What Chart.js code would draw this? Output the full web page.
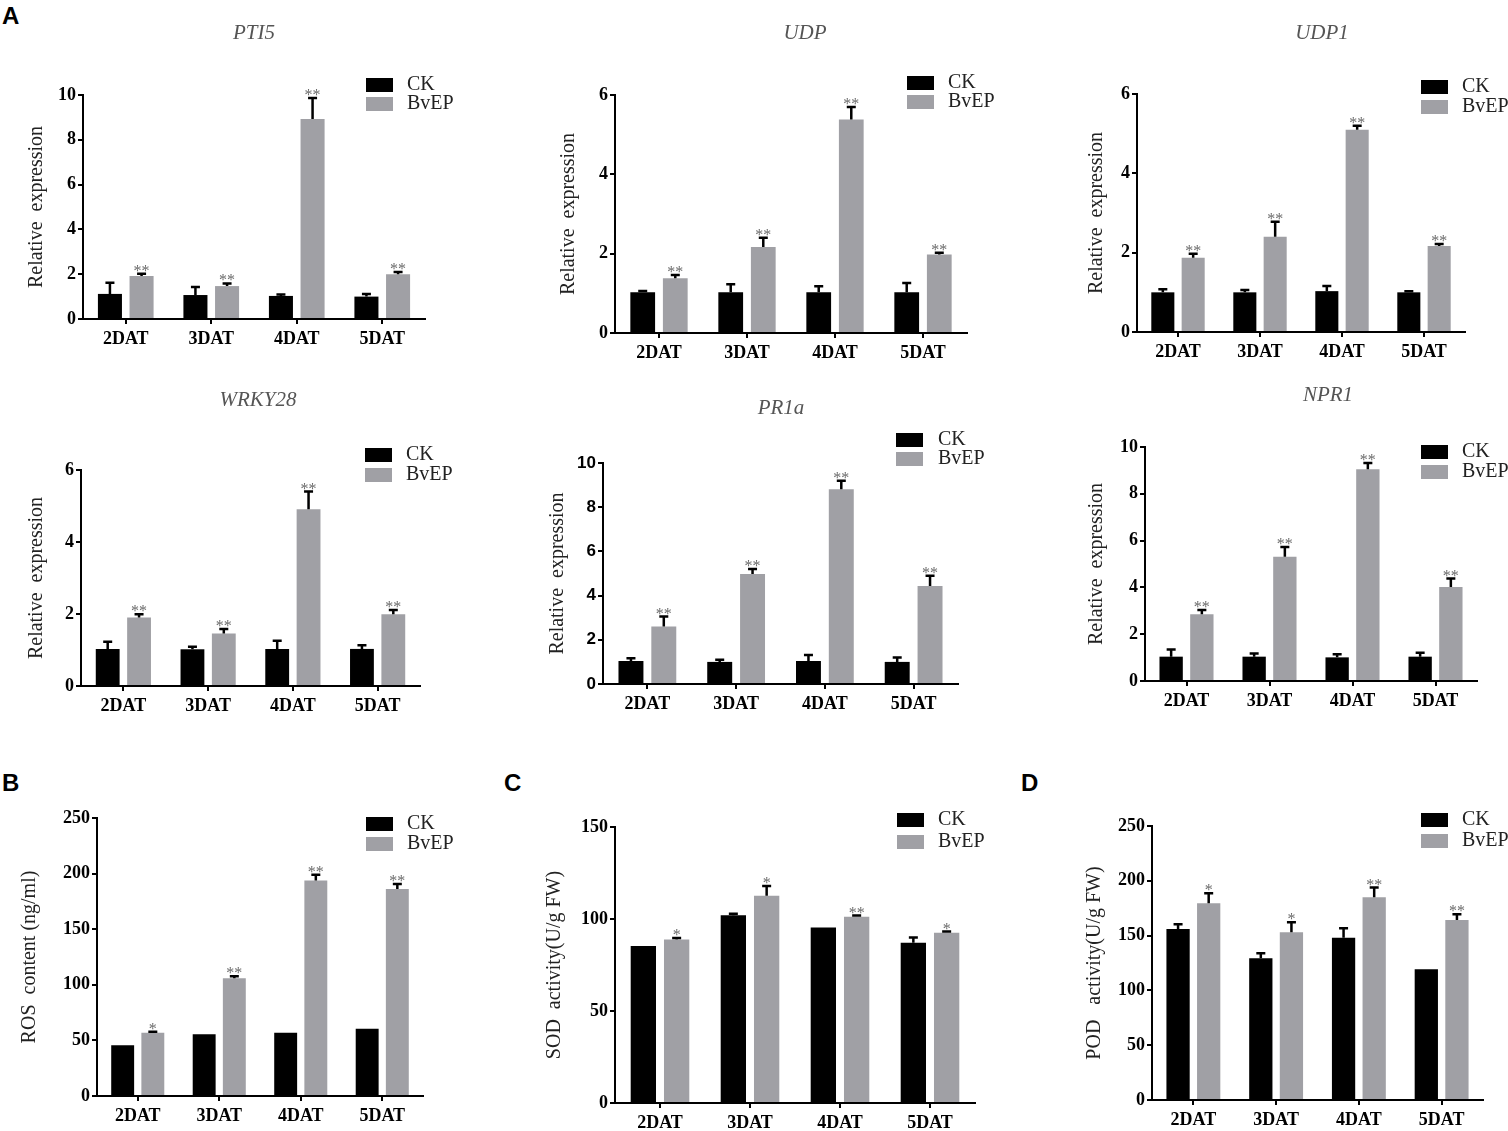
<!DOCTYPE html>
<html>
<head>
<meta charset="utf-8">
<script src="https://cdn.jsdelivr.net/npm/chart.js@4.4.1/dist/chart.umd.min.js"></script>
<style>
body{margin:0;background:#fff;width:1508px;height:1131px;overflow:hidden;position:relative;}
canvas{position:absolute;}
.lab{position:absolute;font:bold 24px "Liberation Sans",Arial,sans-serif;line-height:24px;color:#000;}
</style>
</head>
<body>
<div class="lab" style="left:2px;top:4px">A</div>
<div class="lab" style="left:2px;top:771px">B</div>
<div class="lab" style="left:504px;top:771px">C</div>
<div class="lab" style="left:1021px;top:771px">D</div>
<script>
var days = ['2DAT','3DAT','4DAT','5DAT'];

var pti5CK = [1.12,1.07,1.03,1.0];
var pti5CKErr = [0.5,0.36,0.06,0.12];
var pti5BvEP = [1.92,1.47,8.93,2.0];
var pti5BvEPErr = [0.1,0.12,0.94,0.1];
var pti5Sig = ['**','**','**','**'];

var udpCK = [1.03,1.03,1.03,1.03];
var udpCKErr = [0.03,0.2,0.15,0.23];
var udpBvEP = [1.38,2.17,5.38,1.98];
var udpBvEPErr = [0.08,0.23,0.32,0.04];
var udpSig = ['**','**','**','**'];

var udp1CK = [1.0,1.0,1.03,1.0];
var udp1CKErr = [0.08,0.06,0.13,0.03];
var udp1BvEP = [1.87,2.4,5.1,2.17];
var udp1BvEPErr = [0.1,0.38,0.1,0.05];
var udp1Sig = ['**','**','**','**'];

var wrkyCK = [1.03,1.02,1.03,1.03];
var wrkyCKErr = [0.2,0.07,0.23,0.1];
var wrkyBvEP = [1.9,1.46,4.91,1.99];
var wrkyBvEPErr = [0.09,0.12,0.49,0.12];
var wrkySig = ['**','**','**','**'];

var pr1aCK = [1.04,1.0,1.04,1.0];
var pr1aCKErr = [0.12,0.1,0.27,0.2];
var pr1aBvEP = [2.6,4.98,8.81,4.43];
var pr1aBvEPErr = [0.45,0.22,0.39,0.47];
var pr1aSig = ['**','**','**','**'];

var npr1CK = [1.04,1.04,1.01,1.04];
var npr1CKErr = [0.31,0.14,0.13,0.17];
var npr1BvEP = [2.85,5.31,9.05,4.02];
var npr1BvEPErr = [0.18,0.42,0.27,0.36];
var npr1Sig = ['**','**','**','**'];

var rosCK = [45.7,55.6,56.8,60.4];
var rosCKErr = [0,0,0,0];
var rosBvEP = [56.8,105.8,193.9,186.2];
var rosBvEPErr = [1,2,5,4.5];
var rosSig = ['*','**','**','**'];

var sodCK = [85.3,102.1,95.4,87.1];
var sodCKErr = [0,0.7,0,2.9];
var sodBvEP = [88.9,112.6,101.2,92.5];
var sodBvEPErr = [0.8,5.4,0.7,0.7];
var sodSig = ['*','*','**','*'];

var podCK = [156,129.3,148.1,119.2];
var podCKErr = [4.3,4.5,8.5,0];
var podBvEP = [179.5,153,185,164.2];
var podBvEPErr = [9.1,9.1,8.8,5.2];
var podSig = ['*','*','**','**'];

var serif = '"Liberation Serif","Times New Roman",serif';
var sans = '"Liberation Sans",Arial,sans-serif';
var grey = '#a0a0a5';

Chart.defaults.font.family = serif;
Chart.defaults.font.size = 18;
Chart.defaults.color = '#000';

// page positions of each panel (axis corner, title, legend)
var panels = [
  {ck:pti5CK, ckErr:pti5CKErr, bv:pti5BvEP, bvErr:pti5BvEPErr, sig:pti5Sig, max:10, step:2,
   title:'PTI5', yTitle:'Relative  expression', ax:83, ty:95, by:319, rx:425,
   tx:254, tyT:33, yx:37, lx:366, ly:78, ly2:97, ltx:407},
  {ck:udpCK, ckErr:udpCKErr, bv:udpBvEP, bvErr:udpBvEPErr, sig:udpSig, max:6, step:2,
   title:'UDP', yTitle:'Relative  expression', ax:615, ty:95, by:333, rx:967,
   tx:805, tyT:33, yx:569, lx:907, ly:76, ly2:95, ltx:948},
  {ck:udp1CK, ckErr:udp1CKErr, bv:udp1BvEP, bvErr:udp1BvEPErr, sig:udp1Sig, max:6, step:2,
   title:'UDP1', yTitle:'Relative  expression', ax:1137, ty:94, by:332, rx:1465,
   tx:1322, tyT:33, yx:1097, lx:1421, ly:80, ly2:100, ltx:1462},
  {ck:wrkyCK, ckErr:wrkyCKErr, bv:wrkyBvEP, bvErr:wrkyBvEPErr, sig:wrkySig, max:6, step:2,
   title:'WRKY28', yTitle:'Relative  expression', ax:81, ty:470, by:686, rx:420,
   tx:258, tyT:400, yx:37, lx:365, ly:448, ly2:468, ltx:406},
  {ck:pr1aCK, ckErr:pr1aCKErr, bv:pr1aBvEP, bvErr:pr1aBvEPErr, sig:pr1aSig, max:10, step:2,
   title:'PR1a', yTitle:'Relative  expression', ax:603, ty:463, by:684, rx:958,
   tx:781, tyT:408, yx:558, lx:896, ly:433, ly2:452, ltx:938, sansTicks:true},
  {ck:npr1CK, ckErr:npr1CKErr, bv:npr1BvEP, bvErr:npr1BvEPErr, sig:npr1Sig, max:10, step:2,
   title:'NPR1', yTitle:'Relative  expression', ax:1145, ty:447, by:681, rx:1477,
   tx:1328, tyT:395, yx:1097, lx:1421, ly:445, ly2:465, ltx:1462},
  {ck:rosCK, ckErr:rosCKErr, bv:rosBvEP, bvErr:rosBvEPErr, sig:rosSig, max:250, step:50,
   title:'', yTitle:'ROS  content (ng/ml)', ax:97, ty:818, by:1096, rx:423,
   yx:30, lx:366, ly:817, ly2:837, ltx:407},
  {ck:sodCK, ckErr:sodCKErr, bv:sodBvEP, bvErr:sodBvEPErr, sig:sodSig, max:150, step:50,
   title:'', yTitle:'SOD  activity(U/g FW)', ax:615, ty:827, by:1103, rx:975,
   yx:555, lx:897, ly:813, ly2:835, ltx:938},
  {ck:podCK, ckErr:podCKErr, bv:podBvEP, bvErr:podBvEPErr, sig:podSig, max:250, step:50,
   title:'', yTitle:'POD   activity(U/g FW)', ax:1152, ty:826, by:1100, rx:1483,
   yx:1095, lx:1421, ly:813, ly2:834, ltx:1462}
];

var extras = {
  id:'extras',
  afterDatasetsDraw:function(chart){
    var p = chart.options.plugins.extras.panel;
    var L = chart.options.plugins.extras.left, T = chart.options.plugins.extras.top;
    var ctx = chart.ctx, y = chart.scales.y;
    ctx.save();
    chart.data.datasets.forEach(function(ds, i){
      var meta = chart.getDatasetMeta(i);
      meta.data.forEach(function(bar, j){
        var yTop = y.getPixelForValue(ds.data[j] + ds.err[j]);
        if (ds.err[j] > 0) {
          ctx.strokeStyle = '#000';
          ctx.lineWidth = 2.5;
          ctx.beginPath();
          ctx.moveTo(bar.x, bar.y);
          ctx.lineTo(bar.x, yTop);
          ctx.moveTo(bar.x - 4.5, yTop);
          ctx.lineTo(bar.x + 4.5, yTop);
          ctx.stroke();
        }
        if (ds.sig) {
          ctx.fillStyle = '#6a6a6a';
          ctx.font = '16px ' + serif;
          ctx.textAlign = 'center';
          ctx.textBaseline = 'alphabetic';
          ctx.fillText(ds.sig[j], bar.x, yTop + 2);
        }
      });
    });
    // gene title
    if (p.title) {
      ctx.fillStyle = '#555';
      ctx.font = 'italic 21px ' + serif;
      ctx.textAlign = 'center';
      ctx.textBaseline = 'middle';
      ctx.fillText(p.title, p.tx - L, p.tyT - T);
    }
    // legend
    ctx.fillStyle = '#000';
    ctx.fillRect(p.lx - L, p.ly - T, 27, 14);
    ctx.fillStyle = grey;
    ctx.fillRect(p.lx - L, p.ly2 - T, 27, 14);
    ctx.fillStyle = '#222';
    ctx.font = '20px ' + serif;
    ctx.textAlign = 'left';
    ctx.textBaseline = 'middle';
    ctx.fillText('CK', p.ltx - L, p.ly + 7 - T);
    ctx.fillText('BvEP', p.ltx - L, p.ly2 + 7 - T);
    ctx.restore();
  }
};

function makeChart(p){
  var L = p.yx - 20;
  var T = p.title ? p.tyT - 22 : p.ly - 12;
  var R = Math.max(p.rx, p.ltx + 60);
  var W = R - L, H = p.by - T + 40;
  var canvas = document.createElement('canvas');
  canvas.width = W;
  canvas.height = H;
  canvas.style.left = L + 'px';
  canvas.style.top = T + 'px';
  canvas.style.width = W + 'px';
  canvas.style.height = H + 'px';
  document.body.appendChild(canvas);

  var config = {
    type:'bar',
    data:{
      labels:days,
      datasets:[
        {label:'CK', data:p.ck, err:p.ckErr, backgroundColor:'#000', categoryPercentage:0.74, barPercentage:0.76},
        {label:'BvEP', data:p.bv, err:p.bvErr, sig:p.sig, backgroundColor:grey, categoryPercentage:0.74, barPercentage:0.76}
      ]
    },
    options:{
      responsive:false,
      animation:false,
      devicePixelRatio:1,
      layout:{padding:{left:0, top:p.ty - T, right:R - p.rx, bottom:0}},
      plugins:{
        legend:{display:false},
        tooltip:{enabled:false},
        extras:{panel:p, left:L, top:T}
      },
      scales:{
        x:{
          grid:{offset:false, drawOnChartArea:false, drawTicks:true, tickLength:5, color:'#000', lineWidth:2},
          border:{color:'#000', width:2},
          ticks:{color:'#000', padding:5, maxRotation:0, font:{family:serif, size:18, weight:'bold'}},
          afterFit:function(s){ s.height = 40; }
        },
        y:{
          min:0, max:p.max,
          grid:{drawOnChartArea:false, drawTicks:true, tickLength:5, color:'#000', lineWidth:2},
          border:{color:'#000', width:2},
          ticks:{stepSize:p.step, color:'#000', padding:2,
                 font:{family:p.sansTicks ? sans : serif, size:p.sansTicks ? 17 : 18, weight:'bold'}},
          title:{display:true, text:p.yTitle, color:'#222', font:{family:serif, size:20}, padding:{top:8, bottom:0}},
          afterFit:function(s){ s.width = p.ax - L; }
        }
      }
    },
    plugins:[extras]
  };
  new Chart(canvas, config);
}

panels.forEach(makeChart);
</script>
</body>
</html>
